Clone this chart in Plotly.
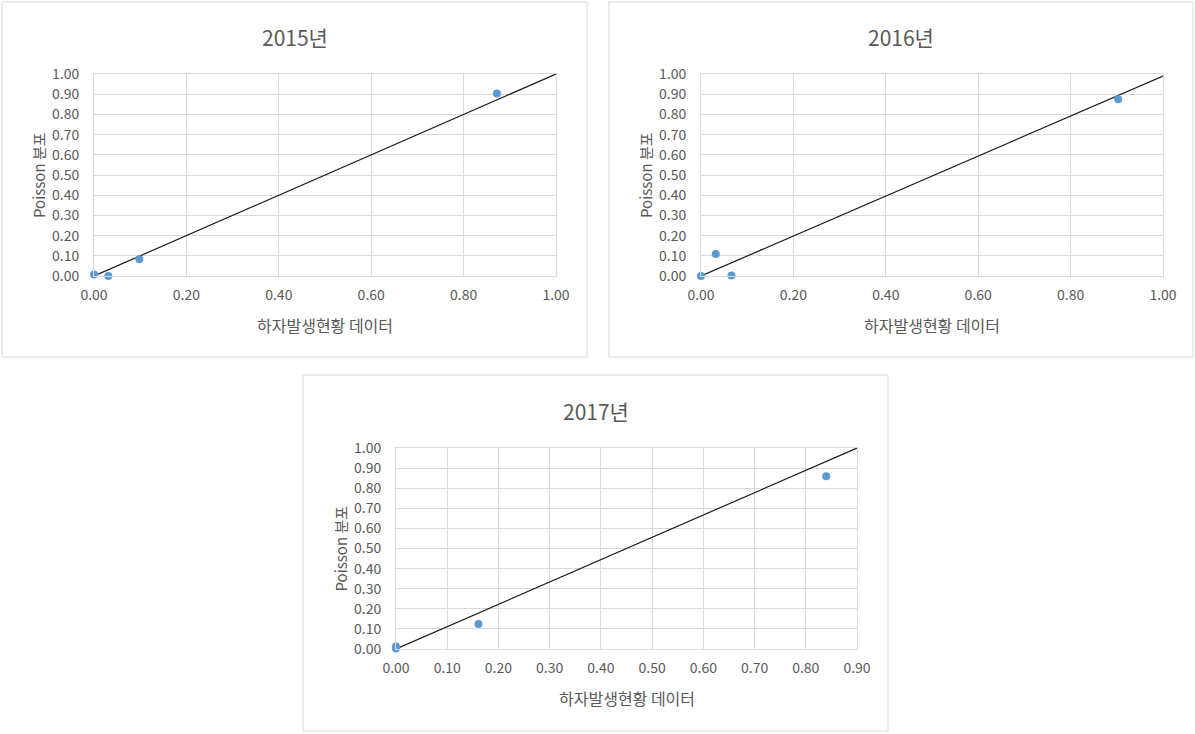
import plotly.graph_objects as go

W, H = 1195, 734

titles = ["2015년", "2016년", "2017년"]
x_title = "하자발생현황 데이터"
y_title = "Poisson 분포"

x2015 = [0.000, 0.031, 0.098, 0.872]
y2015 = [0.008, 0.000, 0.083, 0.904]
x2016 = [0.000, 0.032, 0.066, 0.903]
y2016 = [0.000, 0.109, 0.003, 0.875]
x2017 = [0.000, 0.000, 0.161, 0.840]
y2017 = [0.012, 0.002, 0.124, 0.859]

ref_x = [[0, 1.0], [0, 1.0], [0, 0.9]]
ref_y = [[0, 1.0], [0, 0.99], [0, 1.0]]

x_ranges = [[0, 1.0], [0, 1.0], [0, 0.9]]
x_dticks = [0.2, 0.2, 0.1]

# layout in pixels
plots = [  # plot area x0, x1, y0(top), y1(bottom)
    (94, 556, 74, 276),
    (701, 1163, 74, 276),
    (396, 857, 448, 649),
]
boxes = [(2, 587, 2, 357), (609, 1193, 2, 357), (303, 888, 375, 731)]

FONT = "Noto Sans CJK KR, Noto Sans, sans-serif"
GRAY = "#595959"
GRID = "#d9d9d9"
BLUE = "#5b9bd5"

fig = go.Figure()
xs = [x2015, x2016, x2017]
ys = [y2015, y2016, y2017]

layout = dict(
    width=W, height=H, autosize=False, margin=dict(l=0, r=0, t=0, b=0, pad=0),
    paper_bgcolor="white", plot_bgcolor="white", showlegend=False,
    font=dict(family=FONT, color=GRAY, size=14),
)
shapes = []
annotations = []

def px(x):
    return x / W

def py(y):
    return 1 - y / H

for i in range(3):
    sfx = "" if i == 0 else str(i + 1)
    xa, ya = "x" + sfx, "y" + sfx
    x0, x1, t, b = plots[i]
    fig.add_trace(go.Scatter(
        x=ref_x[i], y=ref_y[i], mode="lines",
        line=dict(color="#1a1a1a", width=1.2),
        xaxis=xa, yaxis=ya, hoverinfo="skip"))
    fig.add_trace(go.Scatter(
        x=xs[i], y=ys[i], mode="markers",
        marker=dict(color=BLUE, size=8),
        xaxis=xa, yaxis=ya, cliponaxis=False))
    layout["xaxis" + sfx] = dict(
        domain=[px(x0), px(x1)], anchor=ya, range=x_ranges[i],
        dtick=x_dticks[i], tick0=0, tickformat=".2f",
        showgrid=True, gridcolor=GRID, gridwidth=1, zeroline=False,
        showline=True, linecolor=GRID, linewidth=1, mirror=True,
        ticks="", ticklabelstandoff=6, automargin=False,
        tickfont=dict(family=FONT, size=14, color=GRAY), fixedrange=True)
    layout["yaxis" + sfx] = dict(
        domain=[py(b), py(t)], anchor=xa, range=[0, 1.0],
        dtick=0.1, tick0=0, tickformat=".2f",
        showgrid=True, gridcolor=GRID, gridwidth=1, zeroline=False,
        showline=True, linecolor=GRID, linewidth=1, mirror=True,
        ticks="", ticklabelstandoff=11, automargin=False,
        tickfont=dict(family=FONT, size=14, color=GRAY), fixedrange=True)
    bx0, bx1, bt, bb = boxes[i]
    shapes.append(dict(type="rect", xref="paper", yref="paper",
                       x0=px(bx0), x1=px(bx1), y0=py(bb), y1=py(bt),
                       line=dict(color=GRID, width=1), fillcolor="rgba(0,0,0,0)",
                       layer="below"))
    cx = (bx0 + bx1) / 2
    annotations.append(dict(text=titles[i], xref="paper", yref="paper",
                            x=px(cx), y=py(t - 37), xanchor="center", yanchor="middle",
                            showarrow=False, font=dict(family=FONT, size=21, color=GRAY)))
    annotations.append(dict(text=x_title, xref="paper", yref="paper",
                            x=px((x0 + x1) / 2), y=py(b + 49), xanchor="center", yanchor="middle",
                            showarrow=False, font=dict(family=FONT, size=16, color=GRAY)))
    annotations.append(dict(text=y_title, xref="paper", yref="paper",
                            x=px(x0 - 56), y=py((t + b) / 2), xanchor="center", yanchor="middle",
                            textangle=-90,
                            showarrow=False, font=dict(family=FONT, size=15, color=GRAY)))

layout["shapes"] = shapes
layout["annotations"] = annotations
fig.update_layout(**layout)
fig.write_html("out.html", config={"responsive": False, "displayModeBar": False},
               post_script="document.body.style.margin='0';document.body.style.overflow='hidden';")
